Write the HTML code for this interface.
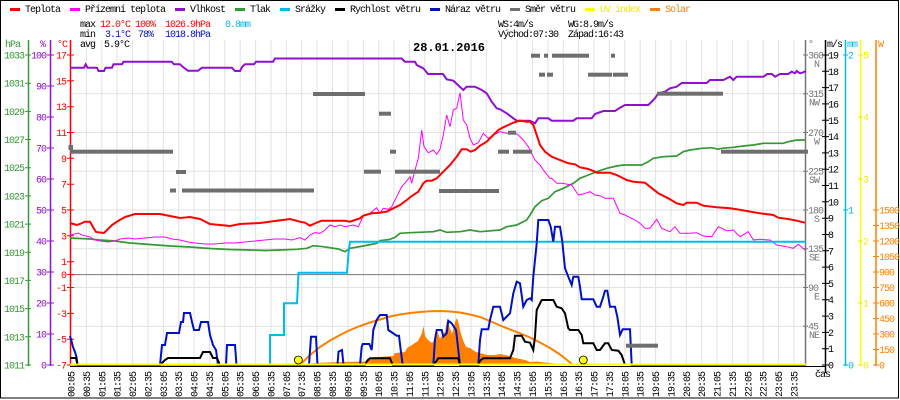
<!DOCTYPE html>
<html><head><meta charset="utf-8"><style>
html,body{margin:0;padding:0;background:#fff}
svg{display:block}
text{font-family:"Liberation Mono","DejaVu Sans Mono",monospace;font-size:10px;letter-spacing:-1px}
.t{font-weight:bold;font-size:12px;letter-spacing:0}
</style></head><body>
<svg width="900" height="400" viewBox="0 0 900 400" xmlns="http://www.w3.org/2000/svg">
<rect x="0" y="0" width="900" height="400" fill="#fff"/>
<rect x="0.5" y="0.5" width="898" height="397.5" fill="none" stroke="#000" stroke-width="1"/>

<!-- grid -->
<path fill="none" stroke="#e2e2e2" stroke-width="1" d="M86.4,40V365M101.8,40V365M117.1,40V365M132.5,40V365M147.9,40V365M163.3,40V365M178.7,40V365M194.1,40V365M209.4,40V365M224.8,40V365M240.2,40V365M255.6,40V365M271,40V365M286.4,40V365M301.7,40V365M317.1,40V365M332.5,40V365M347.9,40V365M363.3,40V365M378.7,40V365M394,40V365M409.4,40V365M424.8,40V365M440.2,40V365M455.6,40V365M471,40V365M486.3,40V365M501.7,40V365M517.1,40V365M532.5,40V365M547.9,40V365M563.3,40V365M578.6,40V365M594,40V365M609.4,40V365M624.8,40V365M640.2,40V365M655.6,40V365M670.9,40V365M686.3,40V365M701.7,40V365M717.1,40V365M732.5,40V365M747.9,40V365M763.2,40V365M778.6,40V365M794,40V365"/>
<path fill="none" stroke="#e2e2e2" stroke-width="1" d="M70,93.75H806M70,132.5H806M70,171.25H806M70,210H806M70,248.75H806M70,287.5H806M70,326.25H806"/>
<path d="M70,274.6H806" stroke="#777" stroke-width="1"/>

<!-- legend -->
<g stroke-width="3">
<path d="M10,9.5H20" stroke="#ff0000"/>
<path d="M70,9.5H80" stroke="#ff00ff"/>
<path d="M175,9.5H185" stroke="#9010d0"/>
<path d="M235,9.5H245" stroke="#339933"/>
<path d="M280,9.5H290" stroke="#00bbee"/>
<path d="M335,9.5H345" stroke="#000"/>
<path d="M430,9.5H440" stroke="#0010c8"/>
<path d="M510,9.5H520" stroke="#707070"/>
<path d="M585,9.5H595" stroke="#ffff00"/>
<path d="M650,9.5H660" stroke="#ff8000"/>
</g>
<g>
<text x="25" y="12">Teplota</text>
<text x="85" y="12">Přízemní teplota</text>
<text x="190" y="12">Vlhkost</text>
<text x="250" y="12">Tlak</text>
<text x="295" y="12">Srážky</text>
<text x="350" y="12">Rychlost větru</text>
<text x="445" y="12">Náraz větru</text>
<text x="525" y="12">Směr větru</text>
<text x="600" y="12" fill="#eeee00">UV index</text>
<text x="665" y="12" fill="#ff8000">Solar</text>
</g>

<!-- info -->
<text x="80" y="27">max</text>
<text x="100" y="27" fill="#ff0000">12.0°C</text>
<text x="135" y="27" fill="#ff0000">100%</text>
<text x="165" y="27" fill="#ff0000">1026.9hPa</text>
<text x="225" y="27" fill="#00bbee">0.8mm</text>
<text x="80" y="37">min</text>
<text x="105" y="37" fill="#0010c8">3.1°C</text>
<text x="138" y="37" fill="#0010c8">78%</text>
<text x="165" y="37" fill="#0010c8">1018.8hPa</text>
<text x="80" y="47">avg</text>
<text x="104" y="47">5.9°C</text>
<text x="498" y="27">WS:4m/s</text>
<text x="568" y="27">WG:8.9m/s</text>
<text x="498" y="37">Východ:07:30</text>
<text x="568" y="37">Západ:16:43</text>
<text class="t" x="413" y="51">28.01.2016</text>

<!-- axis titles -->
<text x="5" y="47" fill="#339933">hPa</text>
<text x="40" y="47" fill="#9010d0">%</text>
<text x="57" y="47" fill="#ff0000">°C</text>
<text x="808" y="47" fill="#777">°</text>
<text x="827" y="47">m/s</text>
<text x="847" y="47" fill="#00bbee">mm</text>
<text x="878" y="47" fill="#ff8000">W</text>

<!-- axis lines -->
<path d="M28.5,40V366" stroke="#339933" stroke-width="1.5"/>
<path d="M50.5,40V366" stroke="#9010d0" stroke-width="1.5"/>
<path d="M70.5,40V366" stroke="#ff0000" stroke-width="1.5"/>
<path d="M805.5,40V366" stroke="#777" stroke-width="1.5"/>
<path d="M825.5,40V373" stroke="#000" stroke-width="1.5"/>
<path d="M845.5,40V366" stroke="#00bbee" stroke-width="1.5"/>
<path d="M860.5,40V366" stroke="#ffff00" stroke-width="1.5"/>
<path d="M876,40V366" stroke="#ff8000" stroke-width="1.5"/>

<!-- ticks -->
<path stroke="#339933" stroke-width="1" d="M25,55H31M25,83.2H31M25,111.4H31M25,139.5H31M25,167.7H31M25,195.9H31M25,224.1H31M25,252.3H31M25,280.4H31M25,308.6H31M25,336.8H31M25,365H31"/>
<path stroke="#9010d0" stroke-width="1" d="M47,55H54M47,86H54M47,117H54M47,148H54M47,179H54M47,210H54M47,241H54M47,272H54M47,303H54M47,334H54M47,365H54"/>
<path stroke="#ff0000" stroke-width="1" d="M67,55H74M67,80.8H74M67,106.7H74M67,132.5H74M67,158.3H74M67,184.2H74M67,210H74M67,235.8H74M67,261.7H74M67,274.6H74M67,287.5H74M67,313.4H74M67,339.2H74M67,365H74"/>
<path stroke="#777" stroke-width="1" d="M803,55H808M803,93.75H808M803,132.5H808M803,171.25H808M803,210H808M803,248.75H808M803,287.5H808M803,326.25H808"/>
<path stroke="#000" stroke-width="1" d="M822,365H829M822,348.7H829M822,332.4H829M822,316.1H829M822,299.7H829M822,283.4H829M822,267.1H829M822,250.8H829M822,234.5H829M822,218.2H829M822,201.8H829M822,185.5H829M822,169.2H829M822,152.9H829M822,136.6H829M822,120.3H829M822,103.9H829M822,87.6H829M822,71.3H829M822,55H829"/>
<path stroke="#00bbee" stroke-width="1" d="M843,55H848M843,210H848M843,365H848"/>
<path stroke="#eeee00" stroke-width="1" d="M858,55H863M858,117H863M858,179H863M858,241H863M858,303H863M858,365H863"/>
<path stroke="#ff8000" stroke-width="1" d="M873,210H879M873,225.5H879M873,241H879M873,256.5H879M873,272H879M873,287.5H879M873,303H879M873,318.5H879M873,334H879M873,349.5H879M873,365H879"/>

<!-- left labels -->
<g fill="#339933" text-anchor="end">
<text x="24" y="58.5">1033</text><text x="24" y="86.7">1031</text><text x="24" y="114.9">1029</text><text x="24" y="143">1027</text><text x="24" y="171.2">1025</text><text x="24" y="199.4">1023</text><text x="24" y="227.6">1021</text><text x="24" y="255.8">1019</text><text x="24" y="283.9">1017</text><text x="24" y="312.1">1015</text><text x="24" y="340.3">1013</text><text x="24" y="368.5">1011</text>
</g>
<g fill="#9010d0" text-anchor="end">
<text x="46" y="58.5">100</text><text x="46" y="89.5">90</text><text x="46" y="120.5">80</text><text x="46" y="151.5">70</text><text x="46" y="182.5">60</text><text x="46" y="213.5">50</text><text x="46" y="244.5">40</text><text x="46" y="275.5">30</text><text x="46" y="306.5">20</text><text x="46" y="337.5">10</text><text x="46" y="368.5">0</text>
</g>
<g fill="#ff0000" text-anchor="end">
<text x="66" y="58.5">17</text><text x="66" y="84.3">15</text><text x="66" y="110.2">13</text><text x="66" y="136">11</text><text x="66" y="161.8">9</text><text x="66" y="187.7">7</text><text x="66" y="213.5">5</text><text x="66" y="239.3">3</text><text x="66" y="265.2">1</text><text x="66" y="278.1">0</text><text x="66" y="291">-1</text><text x="66" y="316.9">-3</text><text x="66" y="342.7">-5</text><text x="66" y="368.5">-7</text>
</g>

<!-- right labels -->
<g fill="#777">
<text x="808" y="58.5">360</text><text x="808" y="97.2">315</text><text x="808" y="136">270</text><text x="808" y="174.7">225</text><text x="808" y="213.5">180</text><text x="808" y="252.2">135</text><text x="808" y="291">90</text><text x="808" y="329.7">45</text>
</g>
<g fill="#777" text-anchor="end">
<text x="819" y="67">N</text><text x="819" y="105.7">NW</text><text x="819" y="144.5">W</text><text x="819" y="183.2">SW</text><text x="819" y="222">S</text><text x="819" y="260.7">SE</text><text x="819" y="299.5">E</text><text x="819" y="338.2">NE</text>
</g>
<g fill="#000">
<text x="828" y="368.5">0</text><text x="828" y="352.2">1</text><text x="828" y="335.9">2</text><text x="828" y="319.6">3</text><text x="828" y="303.2">4</text><text x="828" y="286.9">5</text><text x="828" y="270.6">6</text><text x="828" y="254.3">7</text><text x="828" y="238">8</text><text x="828" y="221.7">9</text><text x="828" y="205.3">10</text><text x="828" y="189">11</text><text x="828" y="172.7">12</text><text x="828" y="156.4">13</text><text x="828" y="140.1">14</text><text x="828" y="123.8">15</text><text x="828" y="107.4">16</text><text x="828" y="91.1">17</text><text x="828" y="74.8">18</text><text x="828" y="58.5">19</text>
</g>
<g fill="#00bbee">
<text x="848" y="58.5">2</text><text x="848" y="213.5">1</text><text x="848" y="368.5">0</text>
</g>
<g fill="#eeee00">
<text x="863" y="58.5">5</text><text x="863" y="120.5">4</text><text x="863" y="182.5">3</text><text x="863" y="244.5">2</text><text x="863" y="306.5">1</text><text x="863" y="368.5">0</text>
</g>
<g fill="#ff8000">
<text x="879" y="213.5">1500</text><text x="879" y="229">1350</text><text x="879" y="244.5">1200</text><text x="879" y="260">1050</text><text x="879" y="275.5">900</text><text x="879" y="291">750</text><text x="879" y="306.5">600</text><text x="879" y="322">450</text><text x="879" y="337.5">300</text><text x="879" y="353">150</text><text x="879" y="368.5">0</text>
</g>
<text x="815" y="377">čas</text>

<!-- solar -->
<polygon fill="#ff8000" points="300,365 305,364 315,363 340,362 365,361.5 368,358 380,357 393,356 395,353 405,352 407,348 412,345 415,343 418,341 420,337 422,333 423.5,326 425,336 428,340 432,343 436,338 437,330 440,339 443,334 445,332 447,320 449,326 452,334 455,322 457,318 459,325 461,334 463,340 466,347 470,348 473,350 476,352 480,353 487,355 495,355 500,354 505,355 510,356 515,358 520,359 525,360 530,362 537,361.5 545,362.5 555,363.5 567,364 573,365"/>
<polyline fill="none" stroke="#ff8000" stroke-width="2" points="300,365 310,355 320,347 330,340.5 340,335 350,330 360,326 370,322.5 380,319.5 390,316.5 400,314.5 410,313 420,312 430,311.3 440,311 450,311.5 460,312.5 470,314.5 480,317 490,321 500,325.5 510,329.5 520,333.3 530,337.5 540,342.5 550,348 560,354.5 567,360 573,365"/>

<!-- tlak -->
<polyline fill="none" stroke="#339933" stroke-width="1.7" points="70,238 80,238.5 90,239 100,240 115,241 130,243 150,244.5 170,246 190,247 210,248.5 230,249.5 250,250 265,250.5 280,250 296.7,249.3 306.7,248.3 313.3,245.7 323.3,246.7 338.3,249 345,251.7 350,248.3 363.3,246 376.7,243.3 380,240.7 390,239.3 395,237.3 400,233.3 410,232.7 433.3,231.7 440,230 446.7,232.3 460,231.7 470,230 480,231.7 500,230 506.7,226.7 516.7,225 526.7,220 530,215 535,206.7 541.7,200.7 548.3,198.3 555,191.7 563.3,188.3 573.3,183.3 580,178.3 588.3,175 596.7,171.7 606.7,168.3 616.7,166 623.3,165 641.7,165 648.3,161.7 653.3,158.3 663.3,156.7 676.7,156 683.3,151.7 690,150 701.7,148.3 711.7,147.7 718.3,149.3 721.7,148.3 733.3,147.3 743.3,146 753.3,145 763.3,143.3 783.3,143.3 788.3,141.7 796.7,140 805,140"/>

<!-- vlhkost -->
<polyline fill="none" stroke="#9010d0" stroke-width="2" points="70,67.7 84,67.7 85.7,64.3 87.5,67.7 97,67.7 98.5,71 104,71 105.5,67.7 112,67.7 113.5,64.3 122,64.3 123.5,61.7 171.7,61.7 174,64.3 180,64.3 183,67 188,70.7 198,70.7 202,67.7 232,67.7 235,71 240,71 242,67 245,64.3 254,64.3 256,61.7 273,61.7 275,58.5 401.7,58.5 405,61.7 415,61.7 416.7,65 423.3,68.3 428,74 443,74 446.7,79.3 453.3,80.7 458,85 463.3,90 466.7,86.7 475,86.7 481.7,90 486.7,93.3 491.7,101.7 496.7,108.3 500,109.3 506.7,113.3 513.3,118.3 516.7,120.7 530,120.7 535,123.3 538.3,118.3 548.3,118.3 551.7,120.7 573.3,120.7 576.7,118.3 591.7,118.3 595,114 603.3,111 615,111 620,107.7 625,105 648.3,105 651.7,101.7 655,98.3 658.3,93.3 665,91.7 670,88.3 676.7,86.7 681.7,83 706.7,83 710,80 723.3,80 730,76.7 733.3,80 736.7,76.7 763.3,76.7 767.3,74 771.7,74 775,76.7 780,74 788.3,74 791.7,71.7 795,73.3 796.7,71 800,73.3 803.3,72.3 806,71"/>

<!-- prizemni teplota -->
<polyline fill="none" stroke="#ff00ff" stroke-width="1" points="70,235 75,234 78,233 82,235 86,236 90,237 95,240 100,241 108,242 115,241 120,239 128,238 135,239 145,238 155,237 165,237 172,239 180,240 188,242 195,243 205,244 215,244 225,243 235,243 245,242 255,241 265,240 275,239 285,239 292,240 300,237.7 305,240 310,235 315,232.7 320,233.3 325,230 330,225 335,226.7 340,225 345,226.7 353.3,225 358.3,226.7 363.3,216 370,213.3 376.7,207.7 380,213.3 383.3,208.3 388.3,209.3 391.7,206.7 396.7,196.7 401.7,186.7 406.7,181 410,176.7 411.7,183.3 415,170 418.3,158.3 421.7,130 424,146.7 428.3,152.7 433.3,150 436.7,154.3 440,149.3 443.3,135 446.7,115 450,126.7 453.3,110 456.7,108.3 460,92.7 463.3,120 466.7,125 470,138.3 473.3,145 478.3,142.7 483.3,133.3 488.3,138.3 493.3,135 500,131.7 506.7,133.3 513.3,131.7 518.3,135 523.3,140 528.3,146.7 533.3,156.7 535,160 540,165 543.3,170 550,178.3 551.7,178.3 556.7,183.3 561.7,183.3 571.7,185 578.3,195 583.3,194 590,191.7 595,195 600,195.7 605,198.3 613.3,198.3 620,213.3 625,215 628.3,216.7 635,220 640,223.3 645,228.3 650,228.3 656.7,219.3 661.7,228.3 670,231.7 675,226.7 680,233.3 690,233.3 696.7,232.7 703.3,236 711.7,236.7 718.3,226.7 726.7,230.7 733.3,230 740,236.7 748.3,231.7 753.3,240 760,239.3 770,240 776.7,245 786.7,246.7 793.3,248.3 798.3,244.3 805,250"/>

<!-- teplota -->
<polyline fill="none" stroke="#ff0000" stroke-width="2" points="70,223 76.7,225 80,224 85,221.7 90,221.7 93,227 96,232 104,233 108,229 112,225 118,221 125,217 135,214 160,214 170,216 180,218 190,217 200,219 210,224 230,226 240,224 260,223 275,221 290,219 300,221.7 305,222.7 310,225.7 315,223.3 321.7,220.7 345,220.7 350,221.7 355,220 360,218.3 363.3,215.7 371.7,213.3 380,212.7 386.7,211.7 393.3,208.3 400,205 406.7,200 411.7,196 418.3,191.7 423.3,183.3 426.7,180.7 431.7,180.7 436.7,178.3 443.3,171.7 450,165 456.7,156.7 461.7,149.3 466.7,149.3 470.7,151.7 475,150 480,145.7 486.7,141.7 493.3,135 498.3,130 503.3,127.3 508.3,125 513.3,122.7 520,120.7 526.7,121.7 530,121.7 533.3,125 536.7,135 540,145 545,151.7 551.7,156.7 561.7,160.7 568.3,163.3 575,164.3 580,167.3 588.3,169 595,171.7 596.7,172.7 610,172.7 616.7,175 626.7,180 633.3,181.7 645,182.7 650,186.7 658.3,193.3 670,199.3 676.7,203.3 683.3,205 686.7,202.7 696.7,202.7 703.3,205.7 716.7,207.3 730,208.3 736.7,209.3 746.7,211 760,213.3 773.3,215 778.3,217.7 790,219.3 796.7,220.7 805,222.7"/>

<!-- srazky -->
<polyline fill="none" stroke="#00bbee" stroke-width="2" points="70,365 270,365 270,335 284,335 284,303.3 297,303.3 298.5,272.7 347,272.7 348.5,253 350,241.7 806,241.7"/>

<!-- bottom axis -->
<path d="M70,366.5H826" stroke="#000" stroke-width="1"/>

<!-- naraz -->
<polyline fill="none" stroke="#0010c8" stroke-width="2" points="70,336 71.5,341 73,347 75,352 76.5,357 77.5,365 160,365 162,345 165,345 167,333 179,333 181,322 183,322 184,313 190,313 192,322 194,330 199,330 201,322 208,322 210,335 213,345 216,350 218,365 226,365 227,345 235,345 236.5,365 309,365 311,336.7 316,336.7 317.5,365 337.5,365 338.5,351.7 342,350 343.5,365 360,365 361.7,346.7 362.7,344 369.3,344 371.7,350 373.3,330 376.7,320 380,315 386.7,315 388.3,330 396.7,335.7 399,335.7 400.7,350 402.7,365 433.3,365 435,339.3 436.7,330 441.7,330 443.3,336.7 446.7,333.3 448.3,320.7 451.7,323.3 456,330 458.3,350 460,365 478.3,365 480,340 481.7,329.3 488.3,329.3 490,320 493.3,306.7 500,306.7 503.3,320 510,313.3 513.3,293.3 516.7,281.7 520,283.3 523.3,306.7 526.7,300 530,298.3 531.7,300 533.3,276.7 536.7,243.3 538.3,220 548.3,220 550.7,226.7 553.3,241.7 555,226.7 560,226.7 562.3,241.7 565,268.3 568.3,276.7 571.7,285 573.3,276.7 578.3,276.7 580,286.7 581.7,299.3 593.3,299.3 596.7,306.7 600,306.7 603.3,296.7 605,290.7 607.3,290.7 610,306.7 615,306.7 617.3,316.7 620,335 622.7,329.3 630,329.3 631.7,365 806,365"/>

<!-- rychlost -->
<polyline fill="none" stroke="#000" stroke-width="2" points="70,358 76,358 77.5,365 160,365 165,360 168,358 200,358 203,352 210,352 213,358 217,358 220,365 365,365 367.3,360.7 370,358.3 390,358.3 392.7,365 433.3,365 436.7,360.7 438.3,358.3 458.3,358.3 460,365 478.3,365 480,360.7 483.3,358.3 510,358.3 513.3,350 515,335.7 521.7,335.7 525,341.7 530,342.7 533.3,350 535,336.7 536.7,310 541.7,300 553.3,300 556.7,306.7 561.7,308.3 565,313.3 568.3,328.3 570,330 578.3,330 581.7,335 583.3,343.3 593.3,343.3 596.7,350 600,350 605,343.3 608.3,343.3 611.7,350 618.3,350.7 621.7,355 625,365"/>

<!-- UV -->
<path d="M70,364.5H806" stroke="#ffff00" stroke-width="2"/>

<!-- smer vetru -->
<g fill="#6e6e6e">
<rect x="68.5" y="145" width="4.5" height="5"/>
<rect x="70" y="149.7" width="103" height="4"/>
<rect x="176" y="170" width="10" height="4"/>
<rect x="170" y="188.5" width="6" height="4"/>
<rect x="182" y="188.5" width="132" height="4"/>
<rect x="313" y="92" width="52" height="4"/>
<rect x="364" y="169.7" width="17" height="4"/>
<rect x="379" y="111.7" width="12" height="4"/>
<rect x="390" y="149.7" width="6" height="4"/>
<rect x="395" y="169.7" width="45" height="4"/>
<rect x="439" y="189" width="60" height="4"/>
<rect x="498" y="149.7" width="11" height="4"/>
<rect x="508" y="130.7" width="8" height="4"/>
<rect x="513" y="149.7" width="19" height="4"/>
<rect x="531" y="53.7" width="9" height="4"/>
<rect x="544" y="53.7" width="4" height="4"/>
<rect x="552" y="53.7" width="37" height="4"/>
<rect x="611" y="53.7" width="4" height="4"/>
<rect x="539" y="72.7" width="6" height="4"/>
<rect x="547" y="72.7" width="6" height="4"/>
<rect x="588" y="72.7" width="24" height="4"/>
<rect x="613" y="72.7" width="15" height="4"/>
<rect x="657" y="91.7" width="66" height="4"/>
<rect x="721" y="149.7" width="87" height="4"/>
<rect x="626" y="343.7" width="32" height="4"/>
</g>

<!-- sunrise/sunset -->
<circle cx="298.3" cy="360" r="4" fill="#ffff00" stroke="#000" stroke-width="0.8"/>
<circle cx="583.3" cy="360" r="4" fill="#ffff00" stroke="#000" stroke-width="0.8"/>

<!-- x labels -->
<g transform="rotate(-90)" fill="#000">
<text x="-397" y="74.5">00:05</text><text x="-397" y="89.9">00:35</text><text x="-397" y="105.3">01:05</text><text x="-397" y="120.6">01:35</text><text x="-397" y="136">02:05</text><text x="-397" y="151.4">02:35</text><text x="-397" y="166.8">03:05</text><text x="-397" y="182.2">03:35</text><text x="-397" y="197.6">04:05</text><text x="-397" y="212.9">04:35</text><text x="-397" y="228.3">05:05</text><text x="-397" y="243.7">05:35</text><text x="-397" y="259.1">06:05</text><text x="-397" y="274.5">06:35</text><text x="-397" y="289.9">07:05</text><text x="-397" y="305.2">07:35</text><text x="-397" y="320.6">08:05</text><text x="-397" y="336">08:35</text><text x="-397" y="351.4">09:05</text><text x="-397" y="366.8">09:35</text><text x="-397" y="382.2">10:05</text><text x="-397" y="397.5">10:35</text><text x="-397" y="412.9">11:05</text><text x="-397" y="428.3">11:35</text><text x="-397" y="443.7">12:05</text><text x="-397" y="459.1">12:35</text><text x="-397" y="474.5">13:05</text><text x="-397" y="489.8">13:35</text><text x="-397" y="505.2">14:05</text><text x="-397" y="520.6">14:35</text><text x="-397" y="536">15:05</text><text x="-397" y="551.4">15:35</text><text x="-397" y="566.8">16:05</text><text x="-397" y="582.1">16:35</text><text x="-397" y="597.5">17:05</text><text x="-397" y="612.9">17:35</text><text x="-397" y="628.3">18:05</text><text x="-397" y="643.7">18:35</text><text x="-397" y="659.1">19:05</text><text x="-397" y="674.4">19:35</text><text x="-397" y="689.8">20:05</text><text x="-397" y="705.2">20:35</text><text x="-397" y="720.6">21:05</text><text x="-397" y="736">21:35</text><text x="-397" y="751.4">22:05</text><text x="-397" y="766.7">22:35</text><text x="-397" y="782.1">23:05</text><text x="-397" y="797.5">23:35</text>
</g>
</svg>
</body></html>
